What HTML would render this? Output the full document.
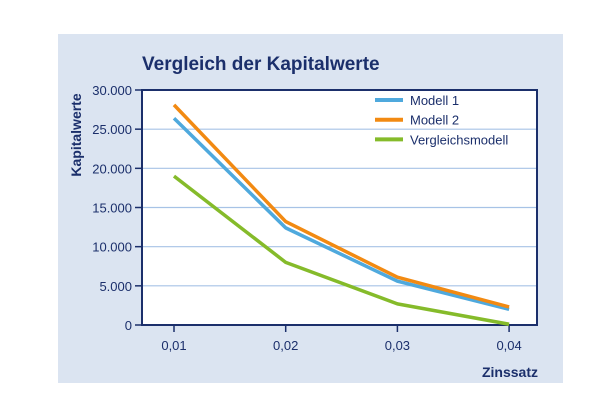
<!DOCTYPE html>
<html><head><meta charset="utf-8"><style>
body{margin:0;width:600px;height:400px;background:#fff;overflow:hidden}
svg text{font-family:"Liberation Sans",sans-serif;fill:#1b2f6b}
</style></head><body>
<svg width="600" height="400">
<rect x="58" y="34" width="505" height="349" fill="#dbe4f1"/>
<text x="142" y="70" font-size="19" font-weight="bold">Vergleich der Kapitalwerte</text>
<rect x="142" y="90" width="395" height="235" fill="#fff"/>
<g id="grid"></g><g id="axes"></g><g id="series"></g>
<text transform="translate(81,135) rotate(-90)" text-anchor="middle" font-size="14" font-weight="bold">Kapitalwerte</text>
<text x="538" y="377" text-anchor="end" font-size="14" font-weight="bold">Zinssatz</text>
<g id="legend"></g>
</svg>
<script>
const categories=["0,01","0,02","0,03","0,04"];
const yTicks=[0,5000,10000,15000,20000,25000,30000];
const yTickLabels=["0","5.000","10.000","15.000","20.000","25.000","30.000"];
const modell1=[26400,12400,5600,2000];
const modell2=[28100,13200,6100,2300];
const vergleich=[19000,8000,2700,100];
const seriesNames=["Modell 1","Modell 2","Vergleichsmodell"];
const colors=["#4fa9dd","#f28a12","#85bb2a"];
const NS="http://www.w3.org/2000/svg";
const x0=174,dx=111.7,yb=325,yt=90,ymax=30000;
const X=i=>x0+i*dx, Y=v=>yb-(v/ymax)*(yb-yt);
function mk(t,a,p){const e=document.createElementNS(NS,t);for(const k in a)e.setAttribute(k,a[k]);p.appendChild(e);return e;}
const grid=document.getElementById('grid'),axes=document.getElementById('axes'),ser=document.getElementById('series'),leg=document.getElementById('legend');
yTicks.forEach((v,i)=>{
 if(v>0&&v<ymax){const l=mk('line',{x1:142,x2:537,y1:Y(v),y2:Y(v),stroke:'#a7c3e6','stroke-width':1.2},grid);
 
 }
 const t=mk('line',{x1:135,x2:142,y1:Y(v),y2:Y(v),stroke:'#1b2f6b','stroke-width':1.5},axes);
 
 
 const tx=mk('text',{x:132,y:Y(v)+5,'text-anchor':'end','font-size':13},axes);tx.textContent=yTickLabels[i];
 
 
});
const fr=mk('rect',{x:142,y:90,width:395,height:235,fill:'none',stroke:'#1b2f6b','stroke-width':2},axes);


categories.forEach((c,i)=>{
 const t=mk('line',{x1:X(i),x2:X(i),y1:325,y2:332,stroke:'#1b2f6b','stroke-width':1.5},axes);
 
 
 const tx=mk('text',{x:X(i),y:350,'text-anchor':'middle','font-size':13},axes);tx.textContent=c;
 
 
});
[vergleich,modell1,modell2].forEach((d,k)=>{
 const idx=[2,0,1][k];
 const p=mk('polyline',{points:d.map((v,i)=>X(i)+','+Y(v)).join(' '),fill:'none',stroke:colors[idx],'stroke-width':3.5,'stroke-linejoin':'round'},ser);
 
 
});
seriesNames.forEach((n,i)=>{
 const y=100+i*19.7;
 const l=mk('line',{x1:375,x2:403,y1:y,y2:y,stroke:colors[i],'stroke-width':4},leg);
 
 
 const t=mk('text',{x:410,y:y+5,'font-size':13},leg);t.textContent=n;
 
 
});
</script>
</body></html>
